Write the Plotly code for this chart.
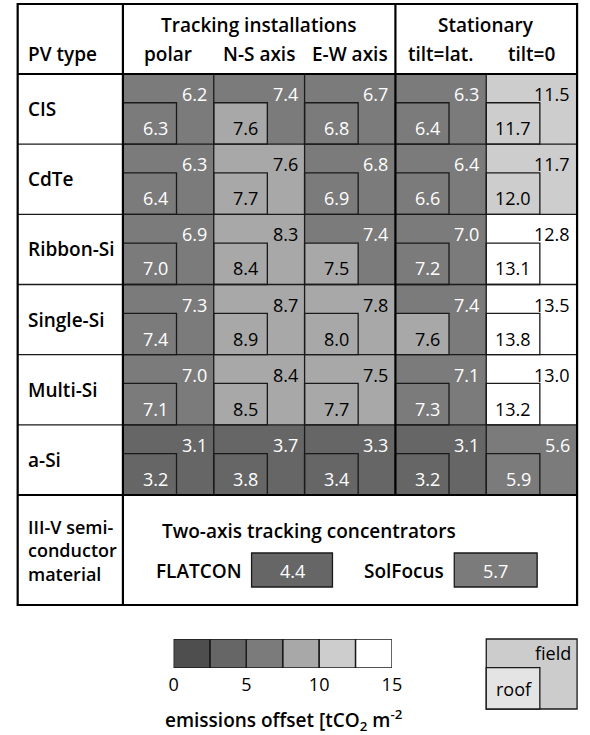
import plotly.graph_objects as go

# ---------------- data ----------------
pv_types = ["CIS", "CdTe", "Ribbon-Si", "Single-Si", "Multi-Si", "a-Si"]
mount_types = ["polar", "N-S axis", "E-W axis", "tilt=lat.", "tilt=0"]
group_labels = ["Tracking installations", "Stationary"]
group_spans = [3, 2]

field_values = [
    [6.2, 7.4, 6.7, 6.3, 11.5],
    [6.3, 7.6, 6.8, 6.4, 11.7],
    [6.9, 8.3, 7.4, 7.0, 12.8],
    [7.3, 8.7, 7.8, 7.4, 13.5],
    [7.0, 8.4, 7.5, 7.1, 13.0],
    [3.1, 3.7, 3.3, 3.1, 5.6],
]
roof_values = [
    [6.3, 7.6, 6.8, 6.4, 11.7],
    [6.4, 7.7, 6.9, 6.6, 12.0],
    [7.0, 8.4, 7.5, 7.2, 13.1],
    [7.4, 8.9, 8.0, 7.6, 13.8],
    [7.1, 8.5, 7.7, 7.3, 13.2],
    [3.2, 3.8, 3.4, 3.2, 5.9],
]
iii_v_lines = ["III-V semi-", "conductor", "material"]
concentrator_title = "Two-axis tracking concentrators"
concentrator_names = ["FLATCON", "SolFocus"]
concentrator_values = [4.4, 5.7]

bin_edges = [0, 2.5, 5, 7.5, 10, 12.5, 15]
bin_colors = ["#4e4e4e", "#666666", "#7b7b7b", "#a8a8a8", "#cdcdcd", "#ffffff"]
tick_values = [0, 5, 10, 15]
tick_labels = ["0", "5", "10", "15"]
legend_labels = ["field", "roof"]
legend_colors = ["#cccccc", "#e4e4e4"]

# ---------------- layout constants (pixels) ----------------
W, H = 590, 735
X0, CW = 121, 93.2        # data area left edge, column width
Y0, RH = 74, 70.17        # data area top edge, row height
LEFT, TOP, BOTTOM = 13, 4, 605
RF_W, RF_H = 0.59, 0.59   # roof box fraction of the cell
FONT = "Open Sans"
INK = "#1a1a1a"
LBL = 19      # bold label size
NUM = 18      # number size


def ux(px):
    return (px - X0) / CW


def uy(py):
    return (py - Y0) / RH


ncol = len(mount_types)
nrow = len(pv_types)
zmin, zmax = bin_edges[0], bin_edges[-1]
colorscale = []
for i, c in enumerate(bin_colors):
    colorscale.append([(bin_edges[i] - zmin) / (zmax - zmin), c])
    colorscale.append([(bin_edges[i + 1] - zmin) / (zmax - zmin), c])

hm = dict(colorscale=colorscale, zmin=zmin, zmax=zmax, showscale=False,
          hoverinfo="skip", xaxis="x", yaxis="y")

fig = go.Figure()

# field layer (whole cells)
fig.add_trace(go.Heatmap(z=field_values, x=list(range(ncol + 1)),
                         y=list(range(nrow + 1)), **hm))

# roof layer (lower-left sub boxes)
rx = []
for c in range(ncol):
    rx += [c, c + RF_W]
rx.append(ncol)
ry = []
for r in range(nrow):
    ry += [r, r + 1 - RF_H]
ry.append(nrow)
rz = []
for r in range(nrow):
    rz.append([None] * (2 * ncol))
    row = []
    for c in range(ncol):
        row += [roof_values[r][c], None]
    rz.append(row)
fig.add_trace(go.Heatmap(z=rz, x=rx, y=ry, **hm))

# concentrator boxes
box_x = [ux(253), ux(336), ux(461), ux(546)]
box_y = [uy(553), uy(587)]
fig.add_trace(go.Heatmap(z=[[concentrator_values[0], None, concentrator_values[1]]],
                         x=box_x, y=box_y, **hm))

# colour bar legend on its own axis
mids = [(bin_edges[i] + bin_edges[i + 1]) / 2 for i in range(len(bin_colors))]
fig.add_trace(go.Heatmap(z=[mids], x=bin_edges, y=[0, 1], colorscale=colorscale,
                         zmin=zmin, zmax=zmax, showscale=False, hoverinfo="skip",
                         xaxis="x2", yaxis="y2"))

shapes = []
thin = dict(color=INK, width=1.3)
thick = dict(color="#000000", width=2.2)

# thin grid lines
for c in range(1, ncol):
    if c == group_spans[0]:
        continue
    shapes.append(dict(type="line", x0=c, x1=c, y0=0, y1=nrow, line=thin))
for r in range(1, nrow):
    shapes.append(dict(type="line", x0=ux(LEFT), x1=ncol, y0=r, y1=r, line=thin))
# roof outlines
for r in range(nrow):
    for c in range(ncol):
        shapes.append(dict(type="rect", x0=c, x1=c + RF_W, y0=r + 1 - RF_H, y1=r + 1,
                           line=thin, fillcolor="rgba(0,0,0,0)"))
# concentrator outlines
for i in range(len(concentrator_values)):
    shapes.append(dict(type="rect", x0=box_x[2 * i], x1=box_x[2 * i + 1],
                       y0=box_y[0], y1=box_y[1], line=thin,
                       fillcolor="rgba(0,0,0,0)"))
# thick lines
shapes.append(dict(type="line", x0=0, x1=0, y0=uy(TOP), y1=uy(BOTTOM), line=thick))
shapes.append(dict(type="line", x0=group_spans[0], x1=group_spans[0], y0=uy(TOP), y1=nrow, line=thick))
shapes.append(dict(type="line", x0=ux(LEFT), x1=ncol, y0=0, y1=0, line=thick))
shapes.append(dict(type="line", x0=ux(LEFT), x1=ncol, y0=nrow, y1=nrow, line=thick))
shapes.append(dict(type="rect", x0=ux(LEFT), x1=ncol, y0=uy(TOP), y1=uy(BOTTOM),
                   line=thick, fillcolor="rgba(0,0,0,0)"))
# colour bar outlines
for i in range(len(bin_colors)):
    shapes.append(dict(type="rect", xref="x2", yref="y2", x0=bin_edges[i], x1=bin_edges[i + 1],
                       y0=0, y1=1, line=thin, fillcolor="rgba(0,0,0,0)"))
# field / roof legend box
lg_y0, lg_y1 = uy(639), uy(709)
shapes.append(dict(type="rect", x0=ncol - 1, x1=ncol, y0=lg_y0, y1=lg_y1,
                   fillcolor=legend_colors[0], line=thin, layer="below"))
shapes.append(dict(type="rect", x0=ncol - 1, x1=ncol - 1 + RF_W,
                   y0=lg_y1 - RF_H * (lg_y1 - lg_y0), y1=lg_y1,
                   fillcolor=legend_colors[1], line=thin))

ann = []


def txt(text, x, y, size=NUM, bold=False, color="#000000", xanchor="center",
        xshift=0, yshift=0, xref="x", yref="y"):
    ann.append(dict(text=text, x=x, y=y, xref=xref, yref=yref, showarrow=False,
                    xanchor=xanchor, yanchor="middle", xshift=xshift, yshift=yshift,
                    align="left",
                    font=dict(family=FONT, size=size, color=color,
                              weight=600 if bold else 400)))


# header
txt("PV type", ux(22), uy(54), size=LBL, bold=True, xanchor="left")
start = 0
for g, span in zip(group_labels, group_spans):
    txt(g, start + span / 2, uy(25), size=LBL, bold=True)
    start += span
for c, m in enumerate(mount_types):
    txt(m, c + 0.5, uy(54), size=LBL, bold=True)

# rows
for r, p in enumerate(pv_types):
    txt(p, ux(22), r + 0.5, size=LBL, bold=True, xanchor="left")
    for c in range(ncol):
        fv = field_values[r][c]
        rv = roof_values[r][c]
        txt(f"{fv:.1f}", c + 1, r + 20 / RH, xanchor="right", xshift=-5,
            color="#ffffff" if fv < 7.5 else "#000000")
        txt(f"{rv:.1f}", c + RF_W, r + 54 / RH, xanchor="right", xshift=-7,
            color="#ffffff" if rv < 7.5 else "#000000")

# III-V section
txt("<br>".join(iii_v_lines), ux(22), uy(550), size=18, bold=True, xanchor="left")
txt(concentrator_title, ux(159), uy(531), size=LBL, bold=True, xanchor="left")
for i, (n, v) in enumerate(zip(concentrator_names, concentrator_values)):
    bx0, bx1 = box_x[2 * i], box_x[2 * i + 1]
    txt(n, bx0, uy(571), size=LBL, bold=True, xanchor="right", xshift=-8)
    txt(f"{v:.1f}", (bx0 + bx1) / 2, uy(571),
        color="#ffffff" if v < 7.5 else "#000000")

# legends
txt("emissions offset [tCO<sub>2</sub> m<sup>-2</sup>", 286 / W, 1 - 720 / H,
    size=LBL, xref="paper", yref="paper", bold=True)
txt(legend_labels[0], ncol, uy(653), xanchor="right", xshift=-4)
txt(legend_labels[1], ncol - 1, uy(689), xanchor="left", xshift=8)

fig.update_layout(
    width=W, height=H,
    margin=dict(l=0, r=0, t=0, b=0),
    paper_bgcolor="white", plot_bgcolor="white",
    showlegend=False,
    xaxis=dict(range=[ux(0), ux(W)], visible=False, domain=[0, 1], fixedrange=True),
    yaxis=dict(range=[uy(H), uy(0)], visible=False, domain=[0, 1], fixedrange=True),
    xaxis2=dict(domain=[173 / W, 397 / W], range=[zmin, zmax], anchor="y2",
                tickvals=tick_values, ticktext=tick_labels, ticks="",
                ticklabelstandoff=4,
                showgrid=False, zeroline=False, showline=False, fixedrange=True,
                tickfont=dict(family=FONT, size=NUM, color="#000000")),
    yaxis2=dict(domain=[1 - 668 / H, 1 - 639 / H], range=[0, 1], anchor="x2",
                visible=False, fixedrange=True),
    shapes=shapes,
    annotations=ann,
)

fig.write_html(
    "out.html",
    config={"displayModeBar": False},
    post_script="document.body.style.margin='0';document.body.style.overflow='hidden';",
)
